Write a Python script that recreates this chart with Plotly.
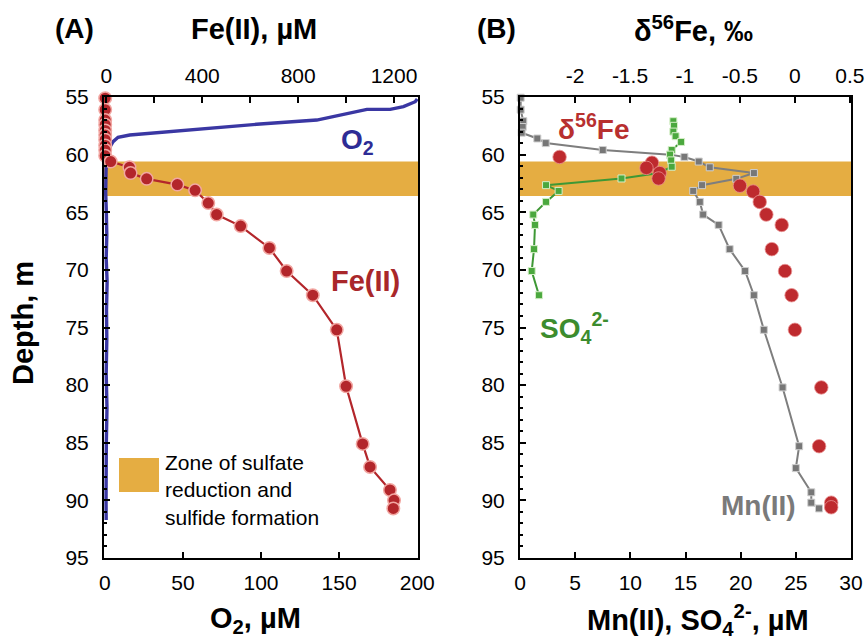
import plotly.graph_objects as go

W, H = 866, 640
FONT = "Liberation Sans, Arial, Helvetica, sans-serif"

# ---------------- Data ----------------
# Panel A: O2 sensor profile
o2_depth = [55.17, 55.41, 55.84, 56.07, 56.07, 57.0, 57.37, 57.63, 57.86, 58.1, 58.3, 58.5,
            58.88, 59.45, 60.18, 61.33, 63.36, 65.0, 67.0, 69.0, 71.0, 73.5, 76.0, 79.0,
            82.0, 85.0, 88.0, 90.0, 91.7]
o2 = [200, 198.7, 191.2, 182.7, 167.8, 135.7, 97.2, 75.8, 54.5, 33.1, 16.0, 8.5,
      5.3, 2.8, 1.5, 0.8, 0.6, 1.0, 1.3, 0.9, 1.5, 1.1, 1.3, 0.9, 1.4, 1.0, 1.2, 0.8, 0.9]

# Panel A: Fe(II)
fe_depth = [55.1, 56.1, 57.0, 57.4, 57.9, 58.3, 58.7, 59.2, 59.6, 60.1,
            60.6, 61.1, 61.6, 62.1, 62.6, 63.1, 64.2, 65.2, 66.2, 68.1, 70.1,
            72.2, 75.2, 80.1, 85.1, 87.1, 89.1, 90.0, 90.7]
fe = [-5, -5, -5, -5, -5, -5, -5, -5, -5, -5,
      18, 96, 101, 168, 296, 370, 425, 460, 560, 680, 752,
      861, 961, 1000, 1069, 1100, 1183, 1200, 1197]

# Panel B: Mn(II)
mn_depth = [55.06, 56.1, 57.1, 57.6, 58.1, 58.6, 59.0, 59.6, 60.0, 60.2, 60.6, 61.1,
            61.6, 62.1, 62.65, 63.15, 64.1, 65.2, 66.1, 68.2, 70.1, 72.2, 75.2, 80.2,
            85.3, 87.2, 89.3, 90.2, 90.7]
mn = [0.06, 0.06, 0.3, 0.24, 0.15, 1.57, 2.33, 7.5, 13.6, 14.9, 16.2, 17.2,
      21.2, 19.6, 16.5, 15.7, 16.3, 16.6, 18.0, 19.0, 20.4, 21.2, 22.1, 23.8,
      25.3, 25.0, 26.4, 26.4, 27.1]

# Panel B: SO4 2-
so4_depth = [57.1, 57.5, 58.0, 58.4, 58.9, 59.6, 60.0, 60.5, 61.05, 61.6, 62.07,
             62.65, 63.15, 64.1, 65.2, 66.1, 68.2, 70.1, 72.2]
so4 = [13.9, 13.96, 13.9, 14.1, 14.6, 13.75, 13.6, 13.7, 13.75, 12.6, 9.2,
       2.36, 3.5, 2.36, 1.2, 1.36, 1.27, 1.06, 1.72]

# Panel B: delta56Fe
d56_depth = [60.2, 60.7, 61.15, 61.6, 62.07, 62.7, 63.2, 64.1, 65.2, 66.1, 68.2,
             70.1, 72.2, 75.2, 80.2, 85.3, 90.2, 90.6]
d56 = [-2.14, -1.30, -1.35, -1.23, -1.24, -0.50, -0.38, -0.32, -0.26, -0.12, -0.21,
       -0.09, -0.03, 0.00, 0.24, 0.22, 0.33, 0.33]

zone = [60.6, 63.6]

o2_ticks = [0, 50, 100, 150, 200]
fe_ticks = [0, 400, 800, 1200]
mn_ticks = [0, 5, 10, 15, 20, 25, 30]
d56_ticks = [-2, -1.5, -1, -0.5, 0, 0.5]
d56_ticktext = ["-2", "-1.5", "-1", "-0.5", "0", "0.5"]
depth_ticks = [55, 60, 65, 70, 75, 80, 85, 90, 95]

# ---------------- Colors ----------------
BLUE = "#3A37A3"
RED = "#B3262B"
GRAY = "#777777"
GREEN = "#3E9835"
BAND = "#E5AD42"


def px(x):
    return x / W


def py(y):
    return 1 - y / H


A_dom = [px(104), px(418)]
B_dom = [px(520), px(851)]
Y_dom = [py(558), py(97)]

fig = go.Figure()

fig.add_trace(go.Scatter(
    x=fe, y=fe_depth, xaxis="x2", yaxis="y", mode="lines+markers",
    line=dict(color=RED, width=2.2),
    marker=dict(size=12.5, color=RED, line=dict(color="#F2A7A2", width=1.5)),
    cliponaxis=False, showlegend=False))
fig.add_trace(go.Scatter(
    x=o2, y=o2_depth, xaxis="x", yaxis="y", mode="lines",
    line=dict(color=BLUE, width=3.4), showlegend=False))

fig.add_trace(go.Scatter(
    x=d56, y=d56_depth, xaxis="x4", yaxis="y2", mode="markers",
    marker=dict(size=13.5, color="#BE2A2E", line=dict(color="#E89090", width=0.8)),
    cliponaxis=False, showlegend=False))
fig.add_trace(go.Scatter(
    x=mn, y=mn_depth, xaxis="x3", yaxis="y2", mode="lines+markers",
    line=dict(color="#7E7E7E", width=2),
    marker=dict(size=7, symbol="square", color=GRAY, line=dict(color="#CFCFCF", width=1)),
    cliponaxis=False, showlegend=False))
fig.add_trace(go.Scatter(
    x=so4, y=so4_depth, xaxis="x3", yaxis="y2", mode="lines+markers",
    line=dict(color=GREEN, width=2),
    marker=dict(size=7, symbol="square", color="#4BA83E", line=dict(color="#D6EFC8", width=1)),
    cliponaxis=False, showlegend=False))

tickfont = dict(family=FONT, size=21, color="black")
common_x = dict(showgrid=False, zeroline=False, ticks="inside", ticklen=6, tickwidth=2,
                tickcolor="black", tickfont=tickfont, linecolor="black", linewidth=2,
                automargin=False)
common_y = dict(showgrid=False, zeroline=False, ticks="inside", ticklen=6, tickwidth=2,
                tickcolor="black", tickfont=tickfont, showline=True, mirror=True,
                linecolor="black", linewidth=2, ticklabelstandoff=9, automargin=False,
                minor=dict(dtick=1, ticks="inside", ticklen=3, tickwidth=2, tickcolor="black"))

fig.update_layout(
    width=W, height=H, margin=dict(l=0, r=0, t=0, b=0, pad=0, autoexpand=False),
    paper_bgcolor="white", plot_bgcolor="white",
    xaxis=dict(domain=A_dom, anchor="y", range=[-0.5, 200.5], tickvals=o2_ticks,
               showline=True, mirror=True, side="bottom", ticklabelstandoff=5, **common_x),
    xaxis2=dict(overlaying="x", anchor="y", side="top", range=[-10, 1300],
                tickvals=fe_ticks, minor=dict(dtick=200, ticks="inside", ticklen=6,
                                              tickwidth=2, tickcolor="black"),
                showline=False, ticklabelstandoff=9, **common_x),
    xaxis3=dict(domain=B_dom, anchor="y2", range=[0, 30], tickvals=mn_ticks,
                showline=True, mirror=True, side="bottom", ticklabelstandoff=5, **common_x),
    xaxis4=dict(overlaying="x3", anchor="y2", side="top", range=[-2.5, 0.51],
                tickvals=d56_ticks, ticktext=d56_ticktext, showline=False,
                ticklabelstandoff=9, **common_x),
    yaxis=dict(domain=Y_dom, anchor="x", range=[95, 55], tickvals=depth_ticks, **common_y),
    yaxis2=dict(domain=Y_dom, anchor="x3", range=[95, 55], tickvals=depth_ticks, **common_y),
)

# Zone bands
fig.add_shape(type="rect", xref="x domain", yref="y", x0=0, x1=1, y0=zone[0], y1=zone[1],
              fillcolor=BAND, line=dict(width=0), layer="below")
fig.add_shape(type="rect", xref="x3 domain", yref="y2", x0=0, x1=1, y0=zone[0], y1=zone[1],
              fillcolor=BAND, line=dict(width=0), layer="below")
# Legend swatch
fig.add_shape(type="rect", xref="paper", yref="paper", x0=px(119), x1=px(159),
              y0=py(492), y1=py(458), fillcolor=BAND, line=dict(width=0))


def ann(text, x, y, size, color="black", bold=True, xanchor="center", yanchor="middle",
        angle=0, align="center"):
    t = f"<b>{text}</b>" if bold else text
    fig.add_annotation(text=t, x=px(x), y=py(y), xref="paper", yref="paper",
                       showarrow=False, xanchor=xanchor, yanchor=yanchor, textangle=angle,
                       align=align, font=dict(family=FONT, size=size, color=color))


ann("(A)", 74, 29, 28)
ann("Fe(II), µM", 254, 29, 29)
ann("(B)", 497, 29, 28)
ann("δ<sup>56</sup>Fe, ‰", 693, 29, 29)
ann("O<sub>2</sub>, µM", 255, 620, 29)
ann("Mn(II), SO<sub>4</sub><sup>2-</sup>, µM", 698, 620, 29)
ann("Depth, m", 23, 323, 29, angle=-90)

ann("O<sub>2</sub>", 357, 141, 28, color="#2E2C95")
ann("Fe(II)", 365, 281, 29, color="#A9272A")
ann("δ<sup>56</sup>Fe", 593, 127, 28, color="#B8302F")
ann("SO<sub>4</sub><sup>2-</sup>", 574, 328, 28, color="#3C8C2E")
ann("Mn(II)", 758, 505, 28, color="#7A7A7A")

ann("Zone of sulfate<br>reduction and<br>sulfide formation", 163, 449, 21, bold=False,
    xanchor="left", yanchor="top", align="left")

fig.write_html(
    "out.html",
    config={"displayModeBar": False},
    post_script="document.body.style.margin='0px';document.body.style.padding='0px';"
                "document.documentElement.style.overflow='hidden';",
)
